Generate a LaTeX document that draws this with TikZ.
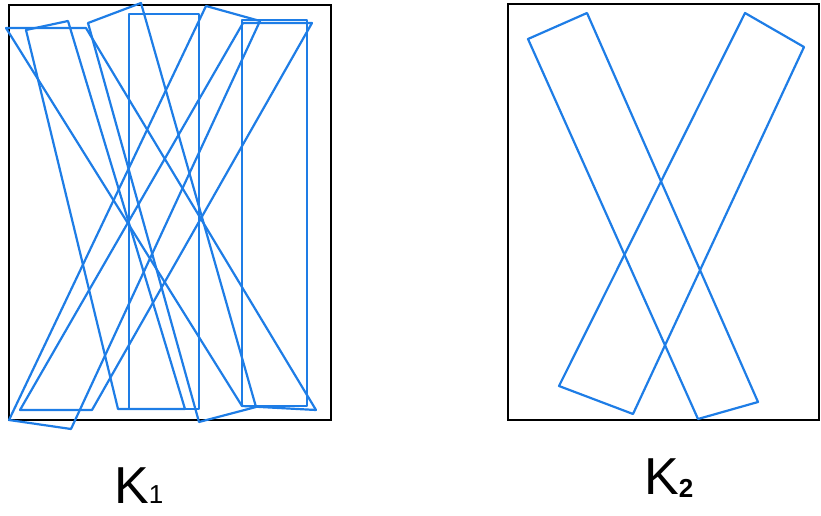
\documentclass[tikz,border=0pt]{standalone}
\usepackage{fontspec}
\setmainfont{Liberation Sans}
\definecolor{sketchblue}{RGB}{30,125,230}
\begin{document}
\begin{tikzpicture}[x=1pt,y=-1pt,
  frame/.style={draw=black,line width=2pt},
  bar/.style={draw=sketchblue,line width=2.2pt,line join=round},
  lab/.style={font=\fontsize{52}{54}\selectfont,inner sep=0pt,anchor=base west}]
\useasboundingbox (0,0) rectangle (821,516);
% left panel
\draw[frame] (9,5) rectangle (331,420);
\draw[bar] (6,28) -- (86,28) -- (316,410) -- (242,406) -- cycle;
\draw[bar] (26,30) -- (68,21) -- (185,409) -- (118,409) -- cycle;
\draw[bar] (88,23) -- (141,3) -- (256,407) -- (199,422) -- cycle;
\draw[bar] (129,14) -- (199,14) -- (199,409) -- (129,409) -- cycle;
\draw[bar] (206,6) -- (260,21) -- (71,429) -- (9,420) -- cycle;
\draw[bar] (242,20) -- (307,20) -- (307,406) -- (242,406) -- cycle;
\draw[bar] (243,23) -- (312,23) -- (92,410) -- (20,410) -- cycle;
% right panel
\draw[frame] (508,4) rectangle (819,420);
\draw[bar] (528,39) -- (587,13) -- (758,402) -- (698,419) -- cycle;
\draw[bar] (745,13) -- (804,47) -- (633,414) -- (559,386) -- cycle;
% labels
\node[lab] (k1) at (114,503) {K{\fontsize{26}{28}\selectfont 1}};
\node[lab] (k2) at (644,494) {K\raisebox{-3pt}{\fontsize{26}{28}\selectfont\bfseries 2}};
\end{tikzpicture}
\end{document}
